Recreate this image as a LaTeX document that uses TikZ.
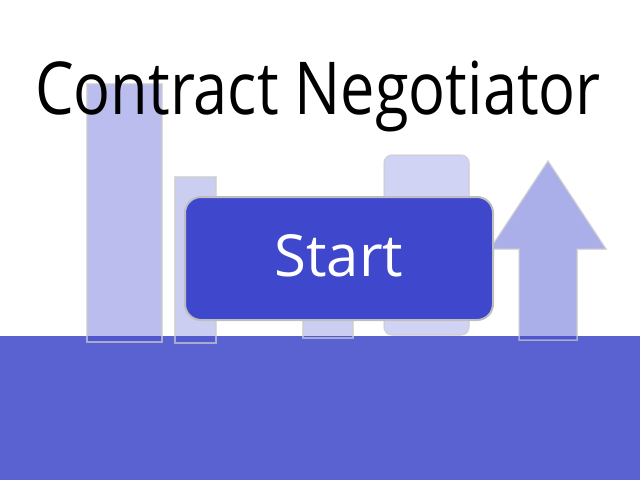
\documentclass[tikz,border=0pt]{standalone}
\usepackage{fontspec}
\setmainfont{Open Sans}
\newfontfamily\headfont[FakeStretch=0.84]{Open Sans}
\usepackage{tikz}
\usetikzlibrary{positioning}
\definecolor{startblue}{RGB}{63,72,204}
\definecolor{bandblue}{RGB}{90,97,208}
\definecolor{edgegray}{RGB}{205,205,205}
\definecolor{boxgray}{RGB}{190,190,190}
\tikzset{
bar/.style={fill=startblue, draw=edgegray, line width=1.5pt, draw opacity=0.7}, % light chart bars
startbox/.style={fill=startblue, draw=boxgray, line width=2pt, rounded corners=16pt,
  text=white, font=\fontsize{58}{64}\selectfont, text depth=6pt,
  minimum width=308pt, minimum height=123pt}, % the button
title/.style={font=\headfont\fontsize{73}{80}\selectfont, anchor=base}, % heading text
}

\begin{document}
\begin{tikzpicture}[x=1pt,y=-1pt]
    \useasboundingbox (0,0) rectangle (640,480);
    % bottom band
    \fill[bandblue] (0,336) rectangle (640,480);
    % bars behind the button
    \draw[bar, fill opacity=0.36] (87,84) rectangle (162,342);
    \draw[bar, fill opacity=0.27] (175,177) rectangle (216,343);
    \draw[bar, fill opacity=0.27] (303,250) rectangle (353,338);
    \draw[bar, fill opacity=0.245, rounded corners=8pt] (384,155) rectangle (469,335);
    \draw[bar, fill opacity=0.44] (548,161) -- (606,249) -- (577,249) -- (577,340)
        -- (519,340) -- (519,249) -- (490,249) -- cycle;
    % heading and button
    \node[title] (heading) at (318,114) {Contract Negotiator};
    \node[startbox] (start) at (339,258.5) {Start};
\end{tikzpicture}
\end{document}
